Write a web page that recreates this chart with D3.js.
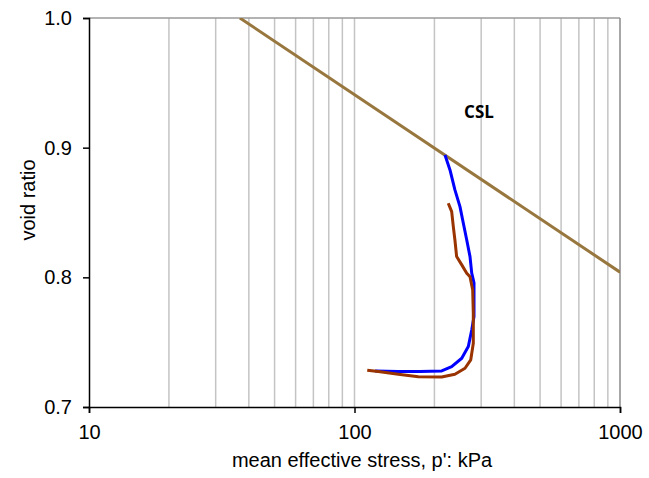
<!DOCTYPE html>
<html><head><meta charset="utf-8">
<script src="https://cdn.jsdelivr.net/npm/d3@7"></script>
<style>body{margin:0;background:#fff}svg{display:block}</style>
</head><body>
<svg id="c" width="649" height="478"></svg>
<script>
const xTicks = [10, 100, 1000];
const xGrid = [20,30,40,50,60,70,80,90,100,200,300,400,500,600,700,800,900];
const yTicks = [0.7, 0.8, 0.9, 1.0];
const cslP = [37, 1000];
const cslE = [1.0, 0.804];
const blueP = [219.2,228.9,238.9,249.6,257.0,264.7,272.3,276.4,281.9,281.9,276.4,268.3,253.5,232.3,213.0,176.5,145.8,119.5];
const blueE = [0.8944,0.8828,0.8674,0.8545,0.8417,0.8288,0.8160,0.8032,0.7957,0.7697,0.7594,0.7466,0.7376,0.7311,0.7278,0.7274,0.7273,0.7278];
const brownP = [225.5,232.3,235.6,238.9,242.5,253.5,264.7,272.3,278.7,280.2,280.2,274.0,260.8,238.9,213.0,173.9,146.2,122.9,111.7];
const brownE = [0.8571,0.8507,0.8391,0.8288,0.8160,0.8096,0.8032,0.8005,0.7903,0.7723,0.7492,0.7363,0.7299,0.7253,0.7232,0.7234,0.7253,0.7273,0.7284];

const L=89, R=620, T=18, B=407;
const svg = d3.select('#c');
const x = d3.scaleLog().domain([10,1000]).range([L,R]);
const y = d3.scaleLinear().domain([0.7,1.0]).range([B,T]);
const font = '"Liberation Sans", Arial, sans-serif';

svg.append('g').selectAll('line').data(xGrid).join('line')
  .attr('x1',d=>x(d)).attr('x2',d=>x(d)).attr('y1',T).attr('y2',B)
  .attr('stroke','#c4c4c4').attr('stroke-width',1.5);
svg.append('line').attr('x1',L).attr('x2',R).attr('y1',T).attr('y2',T).attr('stroke','#9a9a9a').attr('stroke-width',1.5);
svg.append('line').attr('x1',R).attr('x2',R).attr('y1',T).attr('y2',B).attr('stroke','#8a8a8a').attr('stroke-width',1.5);

svg.append('clipPath').attr('id','pc').append('rect').attr('x',L).attr('y',T).attr('width',R-L).attr('height',B-T);
const line = d3.line().x(d=>x(d[0])).y(d=>y(d[1]));
const g = svg.append('g').attr('clip-path','url(#pc)');
g.append('path').datum(cslP.map((p,i)=>[p,cslE[i]])).attr('d',line).attr('fill','none').attr('stroke','#98773f').attr('stroke-width',3);
g.append('path').datum(blueP.map((p,i)=>[p,blueE[i]])).attr('d',line).attr('fill','none').attr('stroke','#0000ff').attr('stroke-width',3).attr('stroke-linejoin','round');
g.append('path').datum(brownP.map((p,i)=>[p,brownE[i]])).attr('d',line).attr('fill','none').attr('stroke','#993300').attr('stroke-width',3).attr('stroke-linejoin','round');

const xa = svg.append('g').attr('transform',`translate(0,${B})`)
  .call(d3.axisBottom(x).tickValues(xTicks).tickFormat(d3.format('d')).tickSize(6).tickPadding(12));
const ya = svg.append('g').attr('transform',`translate(${L},0)`)
  .call(d3.axisLeft(y).tickValues(yTicks).tickFormat(d3.format('.1f')).tickSize(6).tickPadding(11));
[xa,ya].forEach(a=>{
  a.select('.domain').attr('stroke','#000').attr('stroke-width',1.5);
  a.selectAll('.tick line').attr('stroke','#000').attr('stroke-width',1.5);
  a.selectAll('text').attr('font-family',font).attr('font-size',20).attr('fill','#000');
});

svg.append('text').attr('x',362).attr('y',467).attr('text-anchor','middle')
  .attr('font-family',font).attr('font-size',20).text("mean effective stress, p': kPa");
svg.append('text').attr('transform','translate(35,200) rotate(-90)').attr('text-anchor','middle')
  .attr('font-family',font).attr('font-size',20).text('void ratio');
svg.append('text').attr('x',479).attr('y',118).attr('text-anchor','middle')
  .attr('font-family','"Open Sans", sans-serif').attr('font-weight','bold').attr('font-size',17).text('CSL');
</script>
</body></html>
